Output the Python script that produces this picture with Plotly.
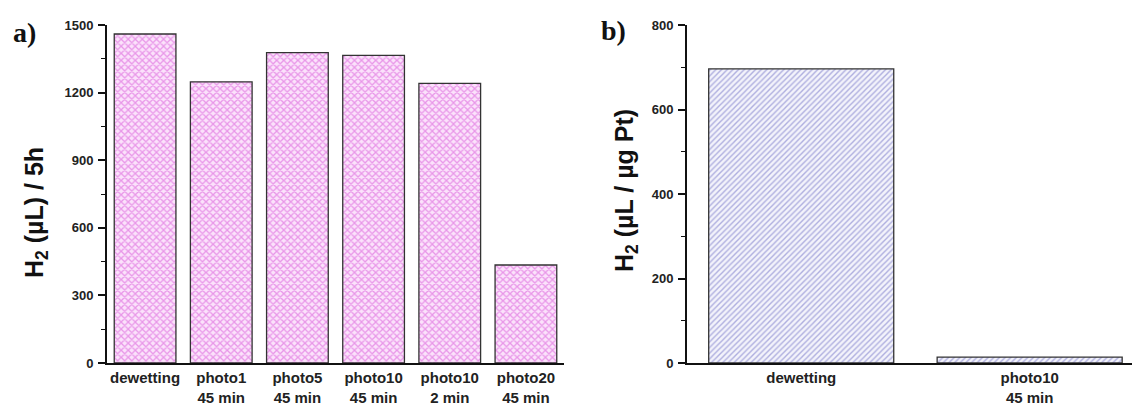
import plotly.graph_objects as go

# ---- data ----
cats_a = ["dewetting", "photo1<br>45 min", "photo5<br>45 min",
          "photo10<br>45 min", "photo10<br>2 min", "photo20<br>45 min"]
vals_a = [1460, 1248, 1377, 1365, 1241, 435]

cats_b = ["dewetting", "photo10<br>45 min"]
vals_b = [696, 14]

yticks_a = [0, 300, 600, 900, 1200, 1500]
yticks_b = [0, 200, 400, 600, 800]

W, H = 1132, 405
def px_x(p):
    return p / W
def px_y(p):
    return (H - p) / H

FONT = "Liberation Sans"
tickfont = dict(family=FONT, size=13, color="#222", weight="bold")
catfont = dict(family=FONT, size=15, color="#222", weight="bold")

fig = go.Figure()
fig.add_trace(go.Bar(
    x=cats_a, y=vals_a, xaxis="x", yaxis="y",
    marker=dict(color="#fbe0fb",
                line=dict(color="#333333", width=1.3),
                pattern=dict(shape="x", fgcolor="#d64ad6", bgcolor="#fbe2fb",
                             size=5, solidity=0.45)),
    showlegend=False))
fig.add_trace(go.Bar(
    x=cats_b, y=vals_b, xaxis="x2", yaxis="y2",
    marker=dict(color="#ffffff",
                line=dict(color="#333333", width=1.3),
                pattern=dict(shape="/", fgcolor="#6b6bc4", bgcolor="#f3f3fb",
                             size=4, solidity=0.35)),
    showlegend=False))

ydom = [px_y(363), px_y(25)]
common_x = dict(showline=True, linecolor="#111", linewidth=2, ticks="",
                showgrid=False, zeroline=False, tickfont=catfont, fixedrange=True,
                automargin=False)
common_y = dict(showline=True, linecolor="#111", linewidth=2, ticks="outside",
                ticklen=7, tickwidth=1.5, tickcolor="#111", showgrid=False,
                zeroline=False, tickfont=tickfont, ticklabelstandoff=2,
                automargin=False)

fig.update_layout(
    width=W, height=H, margin=dict(l=0, r=0, t=0, b=0),
    paper_bgcolor="white", plot_bgcolor="white",
    bargap=0.19,
    xaxis=dict(domain=[px_x(107), px_x(564)], range=[-0.5, 5.5], anchor="y",
               **common_x),
    yaxis=dict(domain=ydom, range=[0, 1500], anchor="x", tickvals=yticks_a,
               minor=dict(dtick=150, ticklen=4, tickwidth=1.2, tickcolor="#111",
                          ticks="outside"),
               **common_y),
    xaxis2=dict(domain=[px_x(687), 1.0], range=[-0.5, 1.448], anchor="y2",
                **common_x),
    yaxis2=dict(domain=ydom, range=[0, 800], anchor="x2", tickvals=yticks_b,
                minor=dict(dtick=100, ticklen=4, tickwidth=1.2, tickcolor="#111",
                           ticks="outside"),
                **common_y),
    annotations=[
        dict(text="H<sub>2</sub> (µL) / 5h", x=px_x(36), y=px_y(213),
             xref="paper", yref="paper", textangle=-90, showarrow=False,
             font=dict(family=FONT, size=25, color="#111", weight="bold"),
             xanchor="center", yanchor="middle"),
        dict(text="H<sub>2</sub> (µL / µg Pt)", x=px_x(626), y=px_y(191),
             xref="paper", yref="paper", textangle=-90, showarrow=False,
             font=dict(family=FONT, size=25, color="#111", weight="bold"),
             xanchor="center", yanchor="middle"),
        dict(text="a)", x=px_x(24), y=px_y(32), xref="paper", yref="paper",
             showarrow=False, xanchor="center", yanchor="middle",
             font=dict(family="Liberation Serif", size=28, color="#111",
                       weight="bold")),
        dict(text="b)", x=px_x(613), y=px_y(30), xref="paper", yref="paper",
             showarrow=False, xanchor="center", yanchor="middle",
             font=dict(family="Liberation Serif", size=28, color="#111",
                       weight="bold")),
    ],
)

fig.write_html("out.html")
